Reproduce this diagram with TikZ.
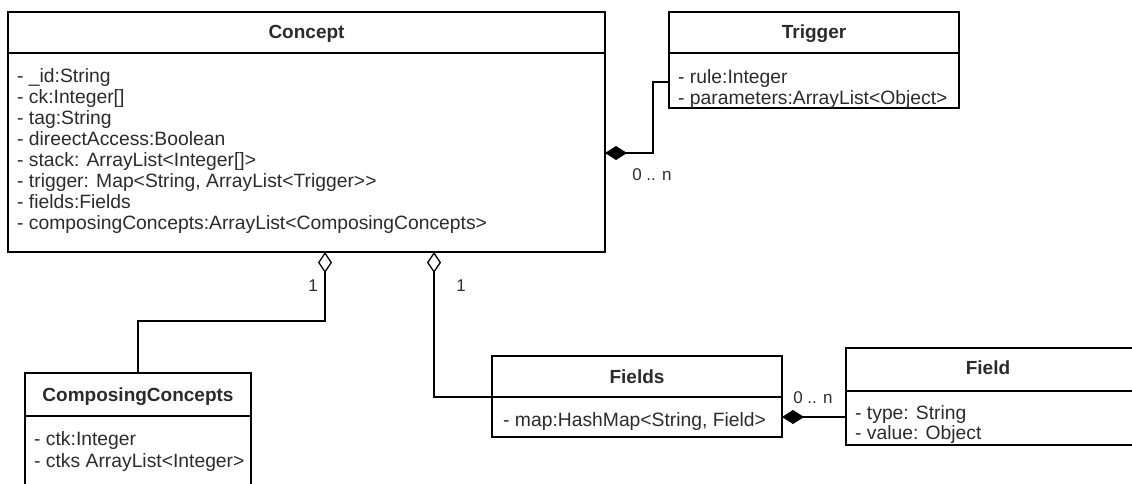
\documentclass[tikz,border=0pt]{standalone}
\usepackage{fontspec}
\setmainfont{Liberation Sans}
\usetikzlibrary{arrows.meta}
\definecolor{ink}{HTML}{2B2B2B}

\begin{document}
\begin{tikzpicture}[x=1pt,y=-1pt,
  classbox/.style={draw=black, line width=1.3pt, anchor=north west, inner sep=0pt, outer sep=0pt},
  ctitle/.style={anchor=base, font=\fontsize{19}{21}\selectfont\bfseries, text=ink, inner sep=0pt},
  cattr/.style={anchor=base west, font=\fontsize{19.3}{21}\selectfont, text=ink, inner sep=0pt},
  mult/.style={font=\fontsize{17}{19}\selectfont, text=ink, inner sep=0pt},
  sep/.style={line width=1.3pt},
  wire/.style={line width=1.3pt},
  agg/.style={wire, {Diamond[open, length=21pt, width=14pt, line width=1.3pt]}-},
  comp/.style={wire, {Diamond[fill=black, length=22pt, width=14pt]}-},
]
\useasboundingbox (0,0) rectangle (1132,484);
\clip (0,0) rectangle (1132,484);

% ---- Concept ----
\node[classbox, minimum width=597pt, minimum height=240pt] (concept) at (8,12) {};
\draw[sep] (8,53) -- (605,53);
\node[ctitle] (concept-title) at (306.5,39) {Concept};
\foreach \t [count=\i] in {
  {- \_id:String},
  {- ck:Integer[]},
  {- tag:String},
  {- direectAccess:Boolean},
  {- stack: ArrayList<Integer[]>},
  {- trigger: Map<String, ArrayList<Trigger>{}>},
  {- fields:Fields},
  {- composingConcepts:ArrayList<ComposingConcepts>}}
  \node[cattr] (concept-a\i) at (17, 61.5+21*\i) {\t};

% ---- Trigger ----
\node[classbox, minimum width=290pt, minimum height=96pt] (trigger) at (669,12) {};
\draw[sep] (669,53) -- (959,53);
\node[ctitle] (trigger-title) at (814,39) {Trigger};
\node[cattr] (trigger-a1) at (678,83.5) {- rule:Integer};
\node[cattr] (trigger-a2) at (678,104.5) {- parameters:ArrayList<Object>};

% ---- ComposingConcepts ----
\node[classbox, minimum width=226pt, minimum height=130pt] (composing) at (25,373) {};
\draw[sep] (25,416) -- (251,416);
\node[ctitle] (composing-title) at (138,401) {ComposingConcepts};
\node[cattr] (composing-a1) at (34,445) {- ctk:Integer};
\node[cattr] (composing-a2) at (34,467.5) {- ctks ArrayList<Integer>};

% ---- Fields ----
\node[classbox, minimum width=290pt, minimum height=81pt] (fields) at (492,356) {};
\draw[sep] (492,397) -- (782,397);
\node[ctitle] (fields-title) at (637,383) {Fields};
\node[cattr] (fields-a1) at (503,426.5) {- map:HashMap<String, Field>};

% ---- Field ----
\node[classbox, minimum width=290pt, minimum height=97pt] (field) at (846,348) {};
\draw[sep] (846,391) -- (1136,391);
\node[ctitle] (field-title) at (988,374.5) {Field};
\node[cattr] (field-a1) at (855,419.5) {- type: String};
\node[cattr] (field-a2) at (855,439.5) {- value: Object};

% ---- connectors ----
\coordinate (tbend) at (653,82);
\draw[comp] (concept.east |- 0,153) -| (tbend) -- (trigger.west |- tbend);
\node[mult] (m-trigger) at (652,175) {0 .. n};

\coordinate (cbend) at (325,321);
\draw[agg] (cbend |- concept.south) -- (cbend) -| (composing.north -| 138,0);
\node[mult] (m-composing) at (313,286) {1};

\coordinate (fbend) at (434,397);
\draw[agg] (fbend |- concept.south) -- (fbend) -- (fbend -| fields.west);
\node[mult] (m-fields) at (461,286) {1};

\draw[comp] (fields.east |- 0,417) -- (field.west |- 0,417);
\node[mult] (m-field) at (813,398) {0 .. n};
\end{tikzpicture}
\end{document}
